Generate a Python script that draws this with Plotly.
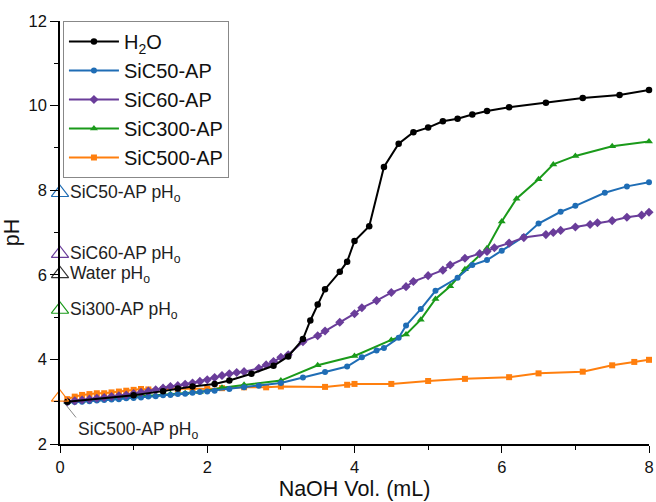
import plotly.graph_objects as go

# ---------------- data ----------------
h2o_x = [0.1, 1.0, 1.4, 1.6, 1.8, 2.1, 2.3, 2.6, 2.9, 3.1, 3.3, 3.4, 3.5, 3.6, 3.8, 3.9,
         4.0, 4.2, 4.4, 4.6, 4.8, 5.0, 5.2, 5.4, 5.6, 5.8, 6.1, 6.6, 7.1, 7.6, 8.0]
h2o_y = [3.0, 3.15, 3.25, 3.31, 3.36, 3.42, 3.5, 3.66, 3.85, 4.07, 4.48, 4.92, 5.3, 5.66, 6.07, 6.31,
         6.8, 7.15, 8.55, 9.1, 9.37, 9.48, 9.63, 9.69, 9.79, 9.87, 9.96, 10.07, 10.18, 10.25, 10.37]

sic50_x = [0.1, 0.2, 0.3, 0.4, 0.5, 0.6, 0.7, 0.8, 0.9, 1.0, 1.1, 1.2, 1.3, 1.4, 1.5, 1.6, 1.7, 1.8,
           1.9, 2.0, 2.1, 2.3, 2.5, 2.7, 3.0, 3.3, 3.6, 3.9, 4.1, 4.3, 4.4, 4.6, 4.7, 4.9, 5.1,
           5.4, 5.6, 5.8, 6.0, 6.3, 6.5, 6.8, 7.0, 7.4, 7.7, 8.0]
sic50_y = [2.98, 2.99, 3.0, 3.01, 3.03, 3.04, 3.05, 3.06, 3.08, 3.09, 3.1, 3.12, 3.13, 3.15, 3.16,
           3.18, 3.19, 3.21, 3.23, 3.24, 3.26, 3.3, 3.34, 3.38, 3.44, 3.57, 3.7, 3.83, 4.05, 4.21,
           4.27, 4.51, 4.8, 5.19, 5.62, 5.93, 6.23, 6.35, 6.57, 6.9, 7.21, 7.49, 7.63, 7.94, 8.09, 8.19]

sic60_x = [0.1, 0.2, 0.3, 0.4, 0.5, 0.6, 0.7, 0.8, 0.9, 1.0, 1.1, 1.2, 1.3, 1.4, 1.5, 1.6, 1.7, 1.8,
           1.9, 2.0, 2.1, 2.2, 2.3, 2.4, 2.5, 2.7, 2.8, 2.9, 3.0, 3.1, 3.3, 3.5, 3.6, 3.8, 4.0,
           4.1, 4.3, 4.5, 4.7, 4.8, 5.0, 5.2, 5.3, 5.5, 5.7, 5.8, 5.9, 6.1, 6.3, 6.6, 6.7, 6.8,
           7.0, 7.2, 7.3, 7.5, 7.7, 7.9, 8.0]
sic60_y = [3.0, 3.02, 3.04, 3.06, 3.08, 3.1, 3.12, 3.14, 3.16, 3.19, 3.22, 3.25, 3.28, 3.32, 3.36,
           3.38, 3.41, 3.44, 3.48, 3.52, 3.57, 3.62, 3.66, 3.69, 3.71, 3.79, 3.87, 3.95, 4.05, 4.11,
           4.42, 4.56, 4.67, 4.88, 5.08, 5.22, 5.39, 5.58, 5.72, 5.84, 5.98, 6.11, 6.23, 6.39, 6.5,
           6.55, 6.64, 6.75, 6.88, 6.95, 7.0, 7.05, 7.13, 7.19, 7.23, 7.28, 7.36, 7.41, 7.48]

sic300_x = [0.1, 0.3, 0.5, 0.7, 0.9, 1.1, 1.3, 1.5, 1.7, 1.9, 2.2, 2.5, 3.0, 3.5, 4.0, 4.5, 4.7,
            4.9, 5.1, 5.3, 5.5, 5.8, 6.0, 6.2, 6.5, 6.7, 7.0, 7.5, 8.0]
sic300_y = [2.99, 3.02, 3.05, 3.08, 3.1, 3.13, 3.15, 3.18, 3.2, 3.23, 3.33, 3.4, 3.5, 3.86, 4.08,
            4.46, 4.59, 4.94, 5.43, 5.73, 6.13, 6.63, 7.26, 7.8, 8.26, 8.61, 8.81, 9.04, 9.15]

sic500_x = [0.1, 0.2, 0.3, 0.4, 0.5, 0.6, 0.7, 0.8, 0.9, 1.0, 1.1, 1.2, 1.4, 1.6, 1.8, 2.0, 2.2,
            2.5, 2.8, 3.0, 3.6, 3.9, 4.0, 4.5, 5.0, 5.5, 6.1, 6.5, 7.1, 7.5, 7.8, 8.0]
sic500_y = [3.06, 3.12, 3.16, 3.18, 3.2, 3.2, 3.22, 3.24, 3.26, 3.28, 3.3, 3.29, 3.3, 3.3, 3.31,
            3.3, 3.32, 3.34, 3.34, 3.36, 3.35, 3.4, 3.42, 3.42, 3.49, 3.54, 3.58, 3.67, 3.71, 3.86,
            3.94, 3.99]

# initial pH markers (open triangles at x = 0)
ph0_labels = ["SiC50-AP pH<sub>o</sub>", "SiC60-AP pH<sub>o</sub>", "Water pH<sub>o</sub>",
              "Si300-AP pH<sub>o</sub>", "SiC500-AP pH<sub>o</sub>"]
ph0_values = [7.94, 6.5, 6.02, 5.18, 3.1]

x_ticks = [0, 2, 4, 6, 8]
y_ticks = [2, 4, 6, 8, 10, 12]

# ---------------- style ----------------
C_BLACK = "#000000"
C_BLUE = "#1f6db5"
C_PURPLE = "#6a3d9a"
C_GREEN = "#1a9a1a"
C_ORANGE = "#ff7f0e"
ph0_colors = [C_BLUE, C_PURPLE, "#333333", C_GREEN, C_ORANGE]

FONT = "Liberation Sans, Arial, sans-serif"

fig = go.Figure()

series = [
    ("H<sub>2</sub>O", h2o_x, h2o_y, C_BLACK, "circle", 6.5),
    ("SiC50-AP", sic50_x, sic50_y, C_BLUE, "circle", 6),
    ("SiC60-AP", sic60_x, sic60_y, C_PURPLE, "diamond", 7),
    ("SiC300-AP", sic300_x, sic300_y, C_GREEN, "triangle-up", 7),
    ("SiC500-AP", sic500_x, sic500_y, C_ORANGE, "square", 6),
]
order = [4, 3, 1, 2, 0]
for i in order:
    name, xs, ys, col, sym, sz = series[i]
    fig.add_trace(go.Scatter(
        x=xs, y=ys, name=name, mode="lines+markers",
        line=dict(color=col, width=2),
        marker=dict(symbol=sym, size=sz, color=col),
        cliponaxis=False, legendrank=i + 1,
    ))

# open triangles
fig.add_trace(go.Scatter(
    x=[0] * len(ph0_values), y=ph0_values, mode="markers", showlegend=False,
    marker=dict(symbol="triangle-up-open", size=15, color=ph0_colors, line=dict(width=1.2)),
    cliponaxis=False,
))

ANN_FONT = dict(family=FONT, size=17.5, color="#222222")
for k, (lab, val) in enumerate(zip(ph0_labels, ph0_values)):
    if k < 4:
        fig.add_annotation(x=0, y=val, xref="x", yref="y", text=lab, showarrow=False,
                           xanchor="left", yanchor="middle", xshift=8, yshift=-1,
                           font=ANN_FONT)
    else:
        fig.add_annotation(x=0, y=val, xref="x", yref="y", text=lab, showarrow=True,
                           arrowhead=0, arrowwidth=0.7, arrowcolor="#555555",
                           ax=16, ay=20, xanchor="left", yanchor="top", standoff=9,
                           font=ANN_FONT)

fig.update_layout(
    width=656, height=502,
    margin=dict(l=59.5, r=6.5, t=20.7, b=57.7, autoexpand=False),
    paper_bgcolor="white", plot_bgcolor="white",
    font=dict(family=FONT, size=16.5, color="#111111"),
    legend=dict(
        x=0.005, y=1.0, xanchor="left", yanchor="top",
        bgcolor="white", bordercolor="#888888", borderwidth=1,
        font=dict(family=FONT, size=20, color="#111111"),
        itemwidth=50, tracegroupgap=0,
    ),
    showlegend=True,
)

fig.update_xaxes(
    range=[0, 8], tickvals=x_ticks, ticktext=[str(v) for v in x_ticks],
    ticks="outside", ticklen=7, tickwidth=1.3, tickcolor="black",
    minor=dict(tickvals=[1, 3, 5, 7], ticks="outside", ticklen=4, tickwidth=1.3, tickcolor="black"),
    showline=True, linecolor="black", linewidth=1.5, showgrid=False, zeroline=False,
    title=dict(text="NaOH Vol. (mL)", font=dict(family=FONT, size=21.5), standoff=6),
    tickfont=dict(family=FONT, size=16.5), automargin=False,
)
fig.update_yaxes(
    range=[2, 12], tickvals=y_ticks, ticktext=[str(v) for v in y_ticks],
    ticks="outside", ticklen=8, tickwidth=1.3, tickcolor="black",
    minor=dict(tickvals=[3, 5, 7, 9, 11], ticks="outside", ticklen=4, tickwidth=1.3, tickcolor="black"),
    showline=True, linecolor="black", linewidth=1.5, showgrid=False, zeroline=False,
    title=dict(text="pH", font=dict(family=FONT, size=21.5), standoff=3),
    tickfont=dict(family=FONT, size=16.5), automargin=False,
)

fig.write_html("out.html", config={"displayModeBar": False},
               post_script="document.body.style.margin='0px';")
